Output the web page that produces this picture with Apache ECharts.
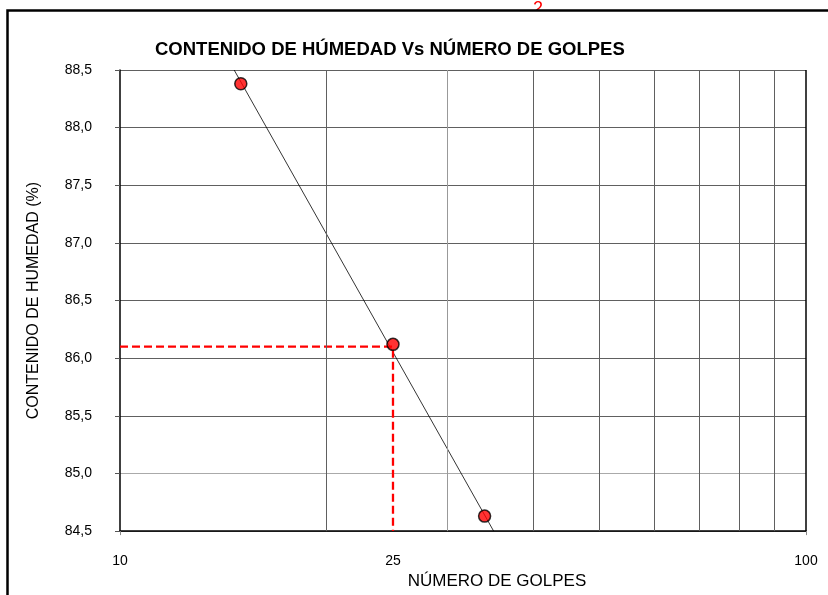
<!DOCTYPE html>
<html><head><meta charset="utf-8">
<script src="https://cdn.jsdelivr.net/npm/echarts@6/dist/echarts.min.js"></script>
<style>html,body{margin:0;padding:0;background:#fff}#c{width:828px;height:595px}</style>
</head><body><div id="c"></div>
<script>
// Data
const golpes = [15, 25, 34];
const humedad = [88.38, 86.12, 84.63];
const trendGolpes = [14.67, 35.05];
const trendHumedad = [88.5, 84.5];
const gridGolpes = [20, 30, 40, 50, 60, 70, 80, 90];
const xTickLabels = [10, 25, 100];
const refGolpes = [10, 25, 25];
const refHumedad = [86.10, 86.10, 84.5];
const yMin = 84.5, yMax = 88.5, yStep = 0.5;

const chart = echarts.init(document.getElementById('c'), null, {renderer: 'canvas'});
const font = 'Liberation Sans, Arial, sans-serif';
const splitColors = [];
for (let v = yMin; v <= yMax + 1e-9; v += yStep) splitColors.push(Math.abs(v - 85) < 1e-6 ? '#aaaaaa' : '#606060');

chart.setOption({
  animation: false,
  backgroundColor: '#fff',
  title: {
    text: 'CONTENIDO DE HÚMEDAD Vs NÚMERO DE GOLPES',
    left: 150, top: 35,
    textStyle: {fontFamily: font, fontSize: 18.5, fontWeight: 'bold', color: '#000'}
  },
  grid: {left: 120, right: 22, top: 70, bottom: 60},
  xAxis: {
    type: 'log', logBase: 10, min: 10, max: 100,
    name: 'NÚMERO DE GOLPES', nameLocation: 'middle', nameGap: 31,
    nameTextStyle: {fontFamily: font, fontSize: 17, color: '#000', padding: [0, 0, 0, 68]},
    axisLine: {show: true, onZero: false, lineStyle: {color: '#000', width: 1.5}},
    axisTick: {show: true, customValues: [10, 100], length: 4, lineStyle: {color: '#888'}},
    axisLabel: {customValues: xTickLabels, margin: 23, fontFamily: font, fontSize: 14, color: '#000',
      formatter: v => String(Math.round(v))},
    splitLine: {show: false}, minorSplitLine: {show: false}
  },
  yAxis: {
    type: 'value', min: yMin, max: yMax, interval: yStep,
    name: 'CONTENIDO DE HUMEDAD (%)', nameLocation: 'middle', nameGap: 78, nameRotate: 90,
    nameTextStyle: {fontFamily: font, fontSize: 16, color: '#000'},
    axisLine: {show: true, onZero: false, lineStyle: {color: '#000', width: 1.5}},
    axisTick: {show: true, inside: false, length: 5, lineStyle: {color: '#555'}},
    axisLabel: {margin: 28, fontFamily: font, fontSize: 14, color: '#000',
      formatter: v => v.toFixed(1).replace('.', ',')},
    splitLine: {show: true, lineStyle: {color: splitColors, width: 1}}
  },
  graphic: [
    {type: 'text', left: 533, top: 0, style: {text: '2', fill: '#ff0000', font: '18px Liberation Sans, Arial, sans-serif'}, z: 98},
    {type: 'rect', shape: {x: 520, y: 11, width: 40, height: 18}, style: {fill: '#fff'}, z: 99},
    {type: 'rect', shape: {x: 7.5, y: 10.5, width: 840, height: 600}, style: {fill: 'none', stroke: '#000', lineWidth: 2.5}, z: 100}
  ],
  series: [
    {
      type: 'line', data: trendGolpes.map((g, i) => [g, trendHumedad[i]]),
      showSymbol: false, lineStyle: {color: '#000', width: 0.8}, z: 3,
      markLine: {
        silent: true, symbol: 'none', label: {show: false},
        lineStyle: {type: 'solid', color: '#606060', width: 1},
        data: gridGolpes.map(g => ({xAxis: g, lineStyle: {color: g === 30 ? '#999' : '#606060'}}))
          .concat([{xAxis: 100, lineStyle: {color: '#000', width: 1.5}}])
      }
    },
    {
      type: 'line', data: refGolpes.map((g, i) => [g, refHumedad[i]]),
      showSymbol: false, lineStyle: {color: '#ff0000', width: 2.3, type: [8, 4]}, z: 4
    },
    {
      type: 'scatter', data: golpes.map((g, i) => [g, humedad[i]]),
      symbol: 'circle', symbolSize: 12,
      itemStyle: {color: '#ff0000', borderColor: '#000', borderWidth: 1.5}, z: 5
    }
  ]
});
</script></body></html>
